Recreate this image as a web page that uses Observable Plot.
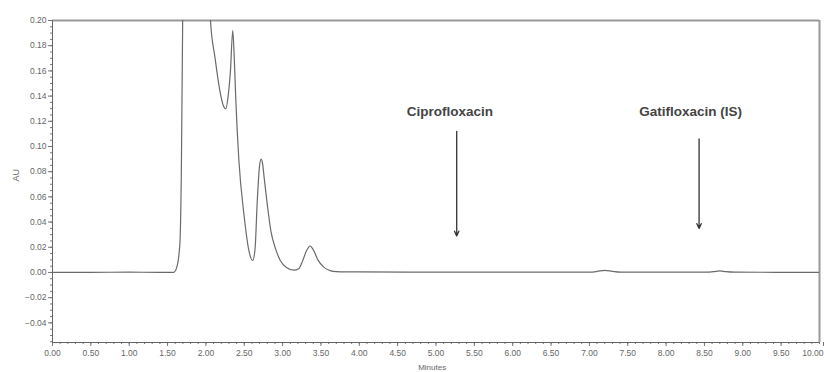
<!DOCTYPE html>
<html>
<head>
<meta charset="utf-8">
<script src="https://cdn.jsdelivr.net/npm/d3@7"></script>
<script src="https://cdn.jsdelivr.net/npm/@observablehq/plot@0.6"></script>
<style>
  html, body { margin: 0; padding: 0; background: #fff; }
  #chart { width: 824px; height: 372px; }
</style>
</head>
<body>
<div id="chart"></div>
<script>
// Chromatogram trace (minutes, AU)
const times = [0.00, 0.50, 1.00, 1.40, 1.58, 1.62, 1.66, 1.68, 1.70, 1.72, 1.80, 1.90, 2.00, 2.06,
  2.12, 2.18, 2.23, 2.26, 2.29, 2.32, 2.35, 2.37, 2.39, 2.43, 2.50, 2.56, 2.61, 2.64, 2.67, 2.70,
  2.72, 2.74, 2.76, 2.80, 2.85, 2.91, 2.97, 3.05, 3.15, 3.21, 3.26, 3.31, 3.36, 3.40, 3.46, 3.54,
  3.62, 3.70, 4.00, 5.00, 6.00, 7.00, 7.10, 7.20, 7.30, 7.40, 8.50, 8.62, 8.70, 8.78, 8.90, 10.00];
const absorbance = [0.0000, 0.0001, 0.0002, 0.0001, 0.0000, 0.0040, 0.0220, 0.0800, 0.2200, 0.3000, 0.4000, 0.4200, 0.3000, 0.2000,
  0.1700, 0.1450, 0.1320, 0.1300, 0.1400, 0.1600, 0.1920, 0.1700, 0.1370, 0.0890, 0.0440, 0.0175, 0.0095, 0.0180, 0.0570, 0.0850,
  0.0900, 0.0860, 0.0750, 0.0540, 0.0320, 0.0185, 0.0095, 0.0040, 0.0018, 0.0030, 0.0090, 0.0170, 0.0210, 0.0180, 0.0100, 0.0040,
  0.0015, 0.0007, 0.0004, 0.0002, 0.0002, 0.0003, 0.0008, 0.0017, 0.0009, 0.0003, 0.0002, 0.0006, 0.0013, 0.0006, 0.0002, 0.0001];

// Annotations
const labels = ["Ciprofloxacin", "Gatifloxacin (IS)"];
const labelX = [5.18, 8.32];
const labelY = [0.1275, 0.1275];
const arrowX = [5.27, 8.43];
const arrowTop = [0.112, 0.106];
const arrowBottom = [0.029, 0.035];

// Axes
const xMajorTicks = d3.range(0, 9.999, 0.5).map(v => +v.toFixed(2));
const xLastTick = [10];
const xMinorTicks = d3.range(0, 10.001, 0.1).map(v => +v.toFixed(2));
const yMajorTicks = [-0.04, -0.02, 0.00, 0.02, 0.04, 0.06, 0.08, 0.10, 0.12, 0.14, 0.16, 0.18, 0.20];
const yMinorTicks = d3.range(-0.055, 0.2001, 0.005).map(v => +v.toFixed(3));
const yMin = -0.0556, yMax = 0.20;

const trace = times.map((t, i) => ({t, a: absorbance[i]}));
const ann = labels.map((l, i) => ({l, lx: labelX[i], ly: labelY[i], ax: arrowX[i], y1: arrowTop[i], y2: arrowBottom[i]}));

const chart = Plot.plot({
  width: 824,
  height: 372,
  marginLeft: 52,
  marginRight: 5,
  marginTop: 20,
  marginBottom: 30,
  style: {fontFamily: "Liberation Sans, Arial, sans-serif", background: "#fff"},
  x: {domain: [0, 10]},
  y: {domain: [yMin, yMax]},
  marks: [
    Plot.axisX({ticks: xMinorTicks, tickSize: 2, text: null, stroke: "#777"}),
    Plot.axisX({ticks: xMajorTicks, tickSize: 4, tickPadding: 3, tickFormat: d3.format(".2f"),
      fontSize: 8.5, fill: "#666", stroke: "#777", label: null}),
    Plot.axisX({ticks: xLastTick, tickSize: 4, tickPadding: 3, tickFormat: d3.format(".2f"),
      fontSize: 8.5, fill: "#666", stroke: "#777", label: null, textAnchor: "end", dx: 4}),
    Plot.axisY({ticks: yMinorTicks, tickSize: 2, text: null, stroke: "#777"}),
    Plot.axisY({ticks: yMajorTicks, tickSize: 4, tickPadding: 2, tickFormat: d3.format(".2f"),
      fontSize: 8.5, fill: "#666", stroke: "#777", label: null}),
    Plot.ruleY([yMax], {stroke: "#999", strokeWidth: 2}),
    Plot.ruleX([10], {stroke: "#999", strokeWidth: 2}),
    Plot.ruleX([0], {stroke: "#666", strokeWidth: 1}),
    Plot.ruleY([yMin], {stroke: "#666", strokeWidth: 1}),
    Plot.line(trace, {x: "t", y: "a", stroke: "#6a6a6a", strokeWidth: 1.2, curve: "monotone-x", clip: true}),
    Plot.arrow(ann, {x1: "ax", x2: "ax", y1: "y1", y2: "y2", stroke: "#333", strokeWidth: 1.3, headLength: 6, headAngle: 50}),
    Plot.text(ann, {x: "lx", y: "ly", text: "l", fontSize: 13.5, fontWeight: "bold", fill: "#444"}),
    Plot.text(["AU"], {frameAnchor: "left", dx: -36, rotate: -90, fontSize: 9, fill: "#666"}),
    Plot.text(["Minutes"], {frameAnchor: "bottom", x: 4.95, dy: 27, fontSize: 8, fill: "#666"})
  ]
});
document.getElementById("chart").appendChild(chart);
</script>
</body>
</html>
